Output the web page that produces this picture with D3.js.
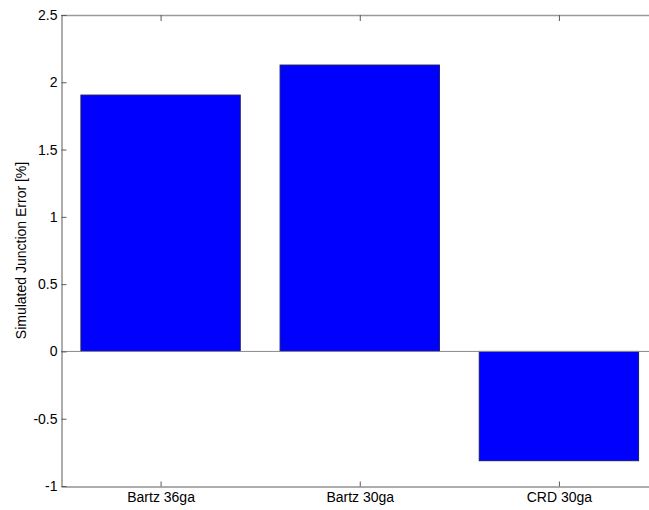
<!DOCTYPE html>
<html>
<head>
<meta charset="utf-8">
<script src="https://cdn.jsdelivr.net/npm/d3@7"></script>
<style>
  html, body { margin: 0; padding: 0; background: #fff; }
  svg { display: block; font-family: "Liberation Sans", Arial, sans-serif; }
</style>
</head>
<body>
<svg id="chart" width="649" height="510"></svg>
<script>
// Simulated junction error per thermocouple type
const categories = ["Bartz 36ga", "Bartz 30ga", "CRD 30ga"];
const errors = [1.905, 2.128, -0.812];
const yTicks = [-1, -0.5, 0, 0.5, 1, 1.5, 2, 2.5];
const yTickLabels = ["-1", "-0.5", "0", "0.5", "1", "1.5", "2", "2.5"];

const svg = d3.select("#chart");
const axisColor = "#5a5a5a";
const fontFamily = "Liberation Sans, Arial, sans-serif";

// Axes box: x spans 0.5..3.5 (bar positions 1..3), y spans -1..2.5
const plotLeft = 61, plotTop = 15, plotBottom = 486, plotRight = 658.5;
const x = d3.scaleLinear().domain([0.5, 3.5]).range([plotLeft, plotRight]);
const y = d3.scaleLinear().domain([-1, 2.5]).range([plotBottom, plotTop]);
const barWidth = 0.8;

// Box outline (top edge; right edge falls outside the window)
svg.append("line").attr("x1", plotLeft).attr("x2", plotRight)
  .attr("y1", plotTop + 0.5).attr("y2", plotTop + 0.5)
  .attr("stroke", "#9a9a9a").attr("stroke-width", 1.5);

// Bars
svg.append("g").selectAll("rect").data(errors).join("rect")
  .attr("x", (d, i) => x(i + 1 - barWidth / 2))
  .attr("width", (d, i) => x(i + 1 + barWidth / 2) - x(i + 1 - barWidth / 2))
  .attr("y", d => y(Math.max(0, d)))
  .attr("height", d => Math.abs(y(d) - y(0)))
  .attr("fill", "#0000ff")
  .attr("stroke", "#1a1a6a")
  .attr("stroke-width", 1);

// Zero baseline
svg.append("line").attr("x1", plotLeft).attr("x2", plotRight)
  .attr("y1", y(0)).attr("y2", y(0))
  .attr("stroke", "#8a8a8a").attr("stroke-width", 1);

// Y axis with inward ticks
const yAxis = d3.axisLeft(y).tickValues(yTicks)
  .tickFormat((d, i) => yTickLabels[i]).tickSizeInner(-5).tickSizeOuter(0).tickPadding(4);
const gy = svg.append("g").attr("transform", `translate(${plotLeft + 0.5},0)`).call(yAxis);
gy.select(".domain").attr("stroke", axisColor);
gy.selectAll(".tick line").attr("stroke", axisColor);
gy.selectAll(".tick text").attr("fill", "#000").attr("font-size", 14)
  .attr("font-family", fontFamily);

// X axis with inward ticks
const xAxis = d3.axisBottom(x).tickValues([1, 2, 3])
  .tickFormat((d) => categories[d - 1]).tickSizeInner(-5).tickSizeOuter(0).tickPadding(6);
const gx = svg.append("g").attr("transform", `translate(0,${plotBottom + 0.5})`).call(xAxis);
gx.select(".domain").attr("stroke", axisColor);
gx.selectAll(".tick line").attr("stroke", axisColor);
gx.selectAll(".tick text").attr("fill", "#000").attr("font-size", 14)
  .attr("font-family", fontFamily);

// Top-edge ticks mirroring the x axis
svg.append("g").selectAll("line").data([1, 2, 3]).join("line")
  .attr("x1", d => x(d) + 0.5).attr("x2", d => x(d) + 0.5)
  .attr("y1", plotTop).attr("y2", plotTop + 6)
  .attr("stroke", axisColor);

// Y axis title
svg.append("text")
  .attr("transform", `translate(26,${(plotTop + plotBottom) / 2}) rotate(-90)`)
  .attr("text-anchor", "middle")
  .attr("font-size", 14)
  .attr("font-family", fontFamily)
  .attr("fill", "#000")
  .text("Simulated Junction Error [%]");
</script>
</body>
</html>
